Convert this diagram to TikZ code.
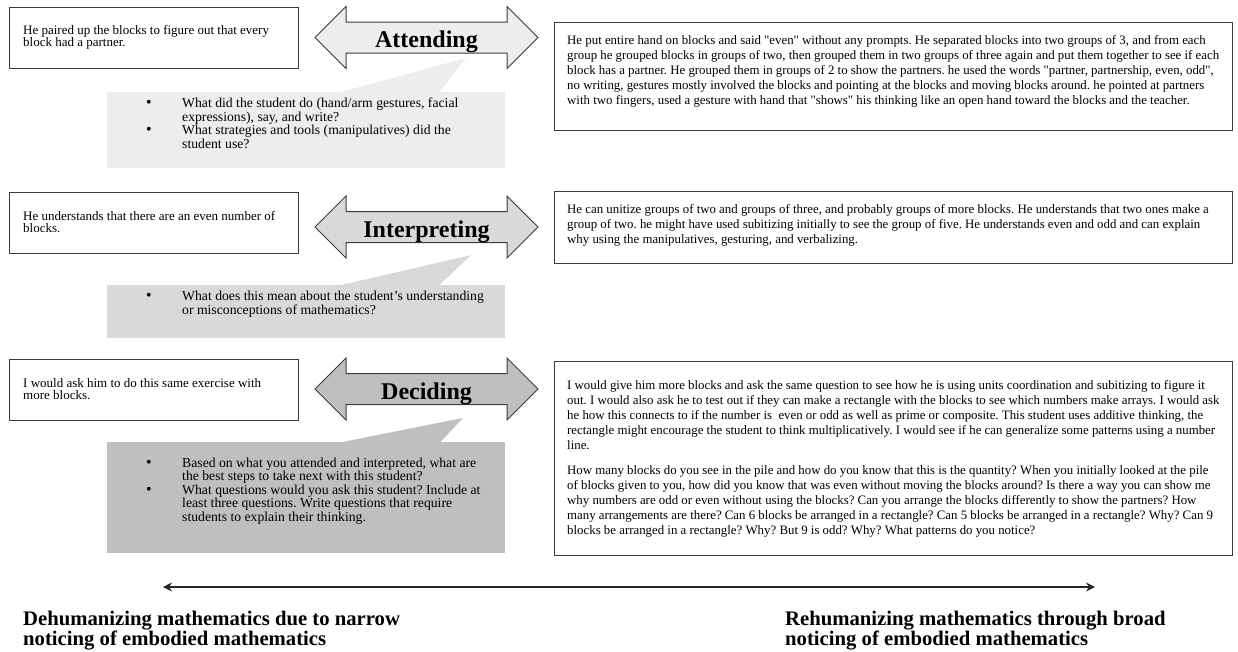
\documentclass[tikz,border=0pt]{standalone}
\usepackage{fontspec}
\setmainfont{Liberation Serif}[Ligatures=TeXOff]
\usetikzlibrary{shapes.arrows,arrows.meta}
\definecolor{paleshade}{HTML}{EDEDED}
\definecolor{midshade}{HTML}{D9D9D9}
\definecolor{deepshade}{HTML}{BFBFBF}
\definecolor{edgeshade}{HTML}{3C3C3C}
\newcommand\askdot{{\fontsize{16}{13.5}\selectfont\textbullet}}
\frenchspacing
\begin{document}
\begin{tikzpicture}[x=1pt,y=-1pt,>={Stealth[length=9pt,width=9pt]},
            notebox/.style={draw=edgeshade, line width=1.2pt, rectangle, inner sep=0pt, anchor=north west},
            notetext/.style={inner sep=0pt, align=left, anchor=west, font=\fontsize{13}{12.5}\selectfont},
            longtext/.style={inner sep=0pt, align=left, anchor=west, font=\fontsize{12.85}{15}\selectfont},
            bubble/.style={rectangle, inner sep=0pt, anchor=north west, minimum width=398pt},
            asktext/.style={inner sep=0pt, anchor=west, font=\fontsize{13.7}{13.5}\selectfont},
            phase/.style={double arrow, draw=edgeshade, line width=1pt, double arrow head extend=15.5pt,
                minimum height=223pt, inner xsep=0pt, inner ysep=0pt, text height=25pt, text depth=5pt,
                font=\fontsize{24}{24}\selectfont\bfseries},
            endtext/.style={inner sep=0pt, anchor=north west, align=left, font=\fontsize{20.7}{20}\selectfont\bfseries}]
                \useasboundingbox (0,0) rectangle (1238,651);
                \node (see1) [notebox, minimum width=289pt, minimum height=61pt] at (9,7) {};
                \node (see1t) [notetext] at ([xshift=14pt,yshift=1pt]see1.west) {He paired up the blocks to figure out that every\\block had a partner.};
                \node (see2) [notebox, minimum width=289pt, minimum height=61pt] at (9,192) {};
                \node (see2t) [notetext] at ([xshift=14pt,yshift=1pt]see2.west) {He understands that there are an even number of\\blocks.};
                \node (see3) [notebox, minimum width=289pt, minimum height=61pt] at (9,359) {};
                \node (see3t) [notetext] at ([xshift=14pt,yshift=1pt]see3.west) {I would ask him to do this same exercise with\\more blocks.};
                \node (ask1) [bubble, fill=paleshade, minimum height=76pt] at (107,92) {};
                \coordinate (tip1) at (466,58);
                \fill [paleshade] ([xshift=232pt,yshift=-0.5pt]ask1.north west) -- (tip1) -- ([xshift=332pt,yshift=-0.5pt]ask1.north west) -- cycle;
                \node (ask1t) [asktext] at ([xshift=39pt,yshift=5pt]ask1.west) {\begin{tabular}{@{}p{36pt}@{}l@{}}
                    \askdot & What did the student do (hand/arm gestures, facial\\
                    & expressions), say, and write?\\
                    \askdot & What strategies and tools (manipulatives) did the\\
                    & student use?\end{tabular}};
                \node (ask2) [bubble, fill=midshade, minimum height=53pt] at (107,285) {};
                \coordinate (tip2) at (471,255);
                \fill [midshade] ([xshift=232pt,yshift=-0.5pt]ask2.north west) -- (tip2) -- ([xshift=332pt,yshift=-0.5pt]ask2.north west) -- cycle;
                \node (ask2t) [asktext] at ([xshift=39pt,yshift=7pt]ask2.west) {\begin{tabular}{@{}p{36pt}@{}l@{}}
                    \askdot & What does this mean about the student’s understanding\\
                    & or misconceptions of mathematics?\end{tabular}};
                \node (ask3) [bubble, fill=deepshade, minimum height=111pt] at (107,442) {};
                \coordinate (tip3) at (463,418);
                \fill [deepshade] ([xshift=233pt,yshift=-0.5pt]ask3.north west) -- (tip3) -- ([xshift=333pt,yshift=-0.5pt]ask3.north west) -- cycle;
                \node (ask3t) [asktext] at ([xshift=39pt,yshift=6pt]ask3.west) {\begin{tabular}{@{}p{36pt}@{}l@{}}
                    \askdot & Based on what you attended and interpreted, what are\\
                    & the best steps to take next with this student?\\
                    \askdot & What questions would you ask this student? Include at\\
                    & least three questions. Write questions that require\\
                    & students to explain their thinking.\end{tabular}};
                \node (attend) [phase, fill=paleshade] at (426.5,37.5) {Attending};
                \node (interpret) [phase, fill=midshade] at (426.5,227) {Interpreting};
                \node (decide) [phase, fill=deepshade] at (426.5,389) {Deciding};
                \node (obs1) [notebox, minimum width=678pt, minimum height=108pt] at (554,22) {};
                \node (obs1t) [longtext] at ([xshift=13pt,yshift=5pt]obs1.west) {He put entire hand on blocks and said "even" without any prompts. He separated blocks into two groups of 3, and from each\\
                    group he grouped blocks in groups of two, then grouped them in two groups of three again and put them together to see if each\\
                    block has a partner. He grouped them in groups of 2 to show the partners. he used the words "partner, partnership, even, odd",\\
                    no writing, gestures mostly involved the blocks and pointing at the blocks and moving blocks around. he pointed at partners\\
                    with two fingers, used a gesture with hand that "shows" his thinking like an open hand toward the blocks and the teacher.};
                \node (obs2) [notebox, minimum width=678pt, minimum height=72pt] at (554,191) {};
                \node (obs2t) [longtext] at ([xshift=13pt,yshift=2pt]obs2.west) {He can unitize groups of two and groups of three, and probably groups of more blocks. He understands that two ones make a\\
                    group of two. he might have used subitizing initially to see the group of five. He understands even and odd and can explain\\
                    why using the manipulatives, gesturing, and verbalizing.};
                \node (obs3) [notebox, minimum width=678pt, minimum height=194pt] at (554,361) {};
                \node (obs3t) [longtext] at ([xshift=13pt]obs3.west) {I would give him more blocks and ask the same question to see how he is using units coordination and subitizing to figure it\\
                    out. I would also ask he to test out if they can make a rectangle with the blocks to see which numbers make arrays. I would ask\\
                    he how this connects to if the number is~ even or odd as well as prime or composite. This student uses additive thinking, the\\
                    rectangle might encourage the student to think multiplicatively. I would see if he can generalize some patterns using a number\\
                    line.\\[10pt]
                    How many blocks do you see in the pile and how do you know that this is the quantity? When you initially looked at the pile\\
                    of blocks given to you, how did you know that was even without moving the blocks around? Is there a way you can show me\\
                    why numbers are odd or even without using the blocks? Can you arrange the blocks differently to show the partners? How\\
                    many arrangements are there? Can 6 blocks be arranged in a rectangle? Can 5 blocks be arranged in a rectangle? Why? Can 9\\
                    blocks be arranged in a rectangle? Why? But 9 is odd? Why? What patterns do you notice?};
                \coordinate (narrowend) at (163,587);
                \coordinate (broadend) at (1095,587);
                \draw [line width=1.3pt, draw=black!85, <->] (narrowend) -- (broadend);
                \node (narrowlbl) [endtext] at (23,611) {Dehumanizing mathematics due to narrow\\noticing of embodied mathematics};
                \node (broadlbl) [endtext] at (785,611) {Rehumanizing mathematics through broad\\noticing of embodied mathematics};
            \end{tikzpicture}
\end{document}
